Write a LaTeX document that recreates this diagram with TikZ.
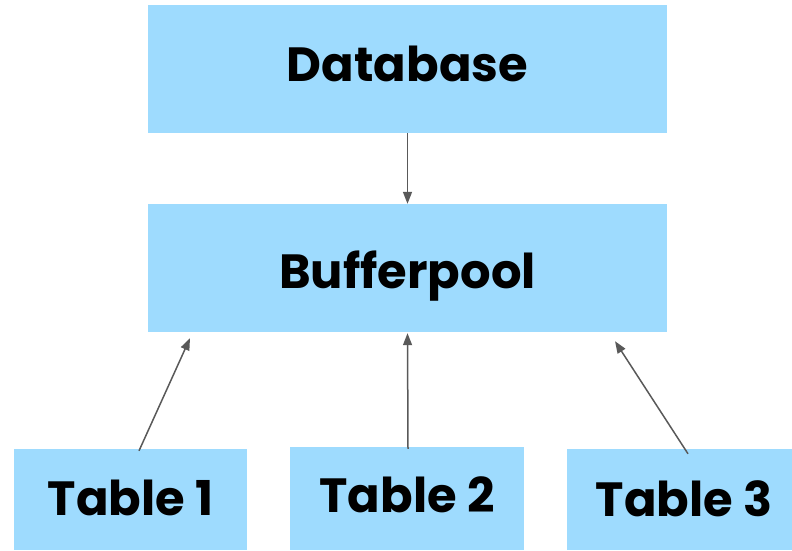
\documentclass[tikz,border=0pt]{standalone}
\usepackage{fontspec}
\setmainfont{Poppins}
\usetikzlibrary{arrows.meta,calc}
\definecolor{boxblue}{HTML}{9EDBFE}
\definecolor{linkgray}{HTML}{595959}
% label text set on the cap height, nudged up or down by #1
\newcommand{\lift}[2]{\raisebox{#1}{#2}}
\begin{document}
\begin{tikzpicture}[x=1pt,y=-1pt,
  block/.style={fill=boxblue, draw=none, inner sep=0pt,
    text height=34pt, text depth=0pt,
    font=\fontsize{48}{54}\selectfont\bfseries},
  link/.style={draw=linkgray, line width=1.5pt, -{Triangle[length=12pt,width=9pt]}}]
  \useasboundingbox (0,0) rectangle (792,550);
  \begin{scope}
  \clip (0,0) rectangle (792,550);
  \node[block, minimum width=519pt, minimum height=128pt] (db) at (407.5,69) {\lift{4.5pt}{Database}};
  \node[block, minimum width=519pt, minimum height=128pt] (bp) at (407.5,268) {\lift{-3.8pt}{Bufferpool}};
  \node[block, minimum width=233pt, minimum height=101pt] (t1) at (130.5,499.5) {\lift{1.5pt}{Table 1}};
  \node[block, minimum width=234pt, minimum height=103pt] (t2) at (407,498.5) {\lift{3pt}{Table 2}};
  \node[block, minimum width=234pt, minimum height=101pt] (t3) at (684,499.5) {\lift{0.5pt}{Table 3}};
  \end{scope}
  \draw[link] (db.south) -- (bp.north);
  \draw[link] ($(t1.north)+(8.5,2)$) -- ($(bp.south)+(-217.5,6)$);
  \draw[link] ($(t2.north)+(1,2)$) -- ($(bp.south)+(0,1)$);
  \draw[link] ($(t3.north)+(4,5)$) -- ($(bp.south)+(207.5,9)$);
\end{tikzpicture}
\end{document}
